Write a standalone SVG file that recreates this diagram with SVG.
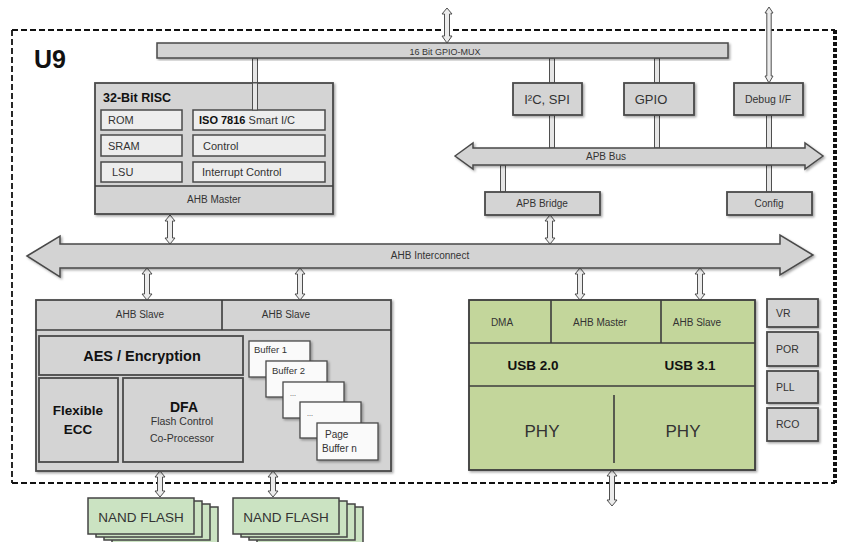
<svg xmlns="http://www.w3.org/2000/svg" width="841" height="542" viewBox="0 0 841 542">
<defs>
<style>
.box{fill:#d4d4d4;stroke:#4a4a4a;stroke-width:1.8}
.inner{fill:#ededed;stroke:#4a4a4a;stroke-width:1.5}
.green{fill:#c3d69b;stroke:#3c3c3c;stroke-width:1.8}
.nand{fill:#cbe3c2;stroke:#444;stroke-width:1.5}
.buf{fill:#fafafa;stroke:#4a4a4a;stroke-width:1.3}
.div{stroke:#3c3c3c;stroke-width:1.6;fill:none}
.arr{fill:#ececec;stroke:#4f4f4f;stroke-width:1}
.bus{fill:#d3d3d3;stroke:#4a4a4a;stroke-width:1.5}
.dl{fill:#e6e6e6;stroke:#4f4f4f;stroke-width:1}
text{font-family:"Liberation Sans",Arial,sans-serif;fill:#333}
.s{font-size:10px}
.m{font-size:11px}
.c{text-anchor:middle}
.b{font-weight:bold;fill:#111}
</style>
<filter id="sh" x="-10%" y="-10%" width="130%" height="130%">
<feDropShadow dx="1.5" dy="1.5" stdDeviation="1.2" flood-color="#000" flood-opacity="0.35"/>
</filter>
</defs>
<rect width="841" height="542" fill="#ffffff"/>

<g id="u9-border" fill="none" stroke="#111">
<path d="M12,30 H835 M12,30 V483 M12,483 H835" stroke-width="1.8" stroke-dasharray="6,3"/>
<path d="M835,30 V483" stroke-width="4" stroke-dasharray="4,2"/>
</g>
<text x="34" y="68" font-size="25" class="b">U9</text>

<g id="connectors">
<rect class="dl" x="252.5" y="58" width="5" height="52"/>
<rect class="dl" x="549.5" y="58" width="5" height="25"/>
<rect class="dl" x="654.5" y="58" width="5" height="25"/>
<rect class="dl" x="549.5" y="115" width="5" height="33"/>
<rect class="dl" x="654.5" y="115" width="5" height="33"/>
<rect class="dl" x="766.5" y="115" width="5" height="33"/>
<rect class="dl" x="500.5" y="165" width="5" height="27"/>
<rect class="dl" x="766.5" y="165" width="5" height="27"/>
<polygon class="arr" points="447,8 452,14 449.5,14 449.5,36 452,36 447,43 442,36 444.5,36 444.5,14 442,14"/>
<polygon class="arr" points="769,7 773,13 771.2,13 771.2,76 773,76 769,83 765,76 766.8,76 766.8,13 765,13"/>
<polygon class="arr" points="170,215 175,221 172.5,221 172.5,238 175,238 170,244 165,238 167.5,238 167.5,221 165,221"/>
<polygon class="arr" points="550,215 555,221 552.5,221 552.5,238 555,238 550,244 545,238 547.5,238 547.5,221 545,221"/>
<polygon class="arr" points="147,268 152,274 149.5,274 149.5,294 152,294 147,300 142,294 144.5,294 144.5,274 142,274"/>
<polygon class="arr" points="300,268 305,274 302.5,274 302.5,294 305,294 300,300 295,294 297.5,294 297.5,274 295,274"/>
<polygon class="arr" points="580,268 585,274 582.5,274 582.5,294 585,294 580,300 575,294 577.5,294 577.5,274 575,274"/>
<polygon class="arr" points="700,268 705,274 702.5,274 702.5,294 705,294 700,300 695,294 697.5,294 697.5,274 695,274"/>
<polygon class="arr" points="160,471 165,477 162.5,477 162.5,491 165,491 160,497 155,491 157.5,491 157.5,477 155,477"/>
<polygon class="arr" points="273,471 278,477 275.5,477 275.5,491 278,491 273,497 268,491 270.5,491 270.5,477 268,477"/>
<polygon class="arr" points="612,470 617,476 614.5,476 614.5,500 617,500 612,506 607,500 609.5,500 609.5,476 607,476"/>
</g>

<g id="gpio-mux">
<rect class="bus" x="157" y="43" width="571" height="15" filter="url(#sh)"/>
<text x="445" y="54.5" font-size="9" class="c">16 Bit GPIO-MUX</text>
</g>

<g id="risc">
<rect class="box" x="95" y="83" width="238" height="131" filter="url(#sh)"/>
<text x="103" y="102" font-size="12.5" class="b">32-Bit RISC</text>
<rect class="inner" x="101" y="110" width="81" height="20"/>
<rect class="inner" x="101" y="135" width="81" height="21"/>
<rect class="inner" x="101" y="162" width="81" height="20"/>
<rect class="inner" x="193" y="110" width="132" height="20"/>
<rect class="inner" x="193" y="135" width="132" height="21"/>
<rect class="inner" x="193" y="162" width="132" height="20"/>
<rect class="dl" x="252.5" y="83" width="5" height="27"/>
<text x="108" y="124" class="m">ROM</text>
<text x="108" y="150" class="m">SRAM</text>
<text x="112" y="176" class="m">LSU</text>
<text x="199" y="124" class="m"><tspan font-weight="bold" fill="#111">ISO 7816</tspan>  Smart I/C</text>
<text x="203" y="150" class="m">Control</text>
<text x="202" y="176" class="m">Interrupt  Control</text>
<line class="div" x1="95" y1="186" x2="333" y2="186"/>
<text x="214" y="203" class="s c">AHB Master</text>
</g>

<g id="i2c-spi">
<rect class="box" x="513" y="83" width="69" height="32" filter="url(#sh)"/>
<text x="547" y="104" font-size="13" class="c">I²C, SPI</text>
</g>
<g id="gpio">
<rect class="box" x="624" y="83" width="70" height="32" filter="url(#sh)"/>
<text x="651" y="104" font-size="13" class="c">GPIO</text>
</g>
<g id="debug">
<rect class="box" x="734" y="83" width="69" height="32" filter="url(#sh)"/>
<text x="768" y="103" font-size="10.5" class="c">Debug I/F</text>
</g>

<g id="apb-bus">
<polygon class="bus" points="455,156 473,143 473,148 805,148 805,143 823,156 805,169 805,165 473,165 473,169" filter="url(#sh)"/>
<text x="606" y="160" class="s c">APB Bus</text>
</g>
<g id="apb-bridge">
<rect class="box" x="485" y="192" width="115" height="23" filter="url(#sh)"/>
<text x="542" y="207" class="s c">APB Bridge</text>
</g>
<g id="config">
<rect class="box" x="727" y="192" width="85" height="23" filter="url(#sh)"/>
<text x="769" y="207" class="s c">Config</text>
</g>

<g id="ahb-interconnect">
<polygon class="bus" points="27,256 60,236 60,244 780,244 780,235 813,255 780,275 780,268 60,268 60,277" filter="url(#sh)"/>
<text x="430" y="259" class="s c">AHB Interconnect</text>
</g>

<g id="flash-controller">
<rect class="box" x="36" y="300" width="355" height="171" filter="url(#sh)"/>
<line class="div" x1="36" y1="330" x2="391" y2="330"/>
<line class="div" x1="222" y1="300" x2="222" y2="330"/>
<text x="140" y="318" class="s c">AHB Slave</text>
<text x="286" y="318" class="s c">AHB Slave</text>
<rect class="box" x="39" y="336" width="204" height="39"/>
<text x="142" y="361" font-size="14.5" class="b c">AES / Encryption</text>
<rect class="box" x="39" y="378" width="79" height="84"/>
<text x="78" y="415" font-size="13.5" class="b c">Flexible</text>
<text x="78" y="434" font-size="13.5" class="b c">ECC</text>
<rect class="box" x="123" y="378" width="120" height="84"/>
<text x="184" y="412" font-size="14" class="b c">DFA</text>
<text x="182" y="425" font-size="10.5" class="c">Flash Control</text>
<text x="182" y="442" font-size="10.5" class="c">Co-Processor</text>
<rect class="buf" x="249" y="341" width="61" height="36" filter="url(#sh)"/>
<text x="254" y="353" font-size="9.5">Buffer 1</text>
<rect class="buf" x="266" y="361" width="61" height="36" filter="url(#sh)"/>
<text x="272" y="374" font-size="9.5">Buffer 2</text>
<rect class="buf" x="283" y="382" width="61" height="36" filter="url(#sh)"/>
<text x="290" y="396" font-size="7" fill="#aaa">...</text>
<rect class="buf" x="300" y="402" width="61" height="36" filter="url(#sh)"/>
<text x="307" y="416" font-size="7" fill="#aaa">...</text>
<rect class="buf" x="317" y="423" width="61" height="37" filter="url(#sh)"/>
<text x="325" y="438" font-size="10">Page</text>
<text x="322" y="452" font-size="10">Buffer  n</text>
</g>

<g id="usb">
<rect class="green" x="469" y="300" width="286" height="170" filter="url(#sh)"/>
<line class="div" x1="469" y1="343" x2="755" y2="343"/>
<line class="div" x1="469" y1="386" x2="755" y2="386"/>
<line class="div" x1="551" y1="300" x2="551" y2="343"/>
<line class="div" x1="661" y1="300" x2="661" y2="343"/>
<line class="div" x1="614" y1="395" x2="614" y2="463"/>
<text x="502" y="326" class="s c">DMA</text>
<text x="600" y="326" class="s c">AHB Master</text>
<text x="697" y="326" class="s c">AHB Slave</text>
<text x="533" y="370" font-size="13.5" class="b c">USB 2.0</text>
<text x="690" y="370" font-size="13.5" class="b c">USB 3.1</text>
<text x="542" y="437" font-size="17" class="c" fill="#222">PHY</text>
<text x="683" y="437" font-size="17" class="c" fill="#222">PHY</text>
</g>

<g id="vr"><rect class="box" x="767" y="299" width="51" height="28" filter="url(#sh)"/><text x="776" y="317" font-size="10.5">VR</text></g>
<g id="por"><rect class="box" x="767" y="332" width="51" height="34" filter="url(#sh)"/><text x="776" y="353" font-size="10.5">POR</text></g>
<g id="pll"><rect class="box" x="767" y="371" width="51" height="32" filter="url(#sh)"/><text x="776" y="391" font-size="10.5">PLL</text></g>
<g id="rco"><rect class="box" x="767" y="408" width="51" height="33" filter="url(#sh)"/><text x="776" y="428" font-size="10.5">RCO</text></g>

<g id="nand-1">
<rect class="nand" x="112" y="507" width="106" height="36"/>
<rect class="nand" x="104" y="504" width="106" height="36"/>
<rect class="nand" x="96" y="501" width="106" height="36"/>
<rect class="nand" x="88" y="498" width="106" height="36"/>
<text x="141" y="522" font-size="13.5" class="c">NAND FLASH</text>
</g>
<g id="nand-2">
<rect class="nand" x="257" y="507" width="106" height="36"/>
<rect class="nand" x="249" y="504" width="106" height="36"/>
<rect class="nand" x="241" y="501" width="106" height="36"/>
<rect class="nand" x="233" y="498" width="106" height="36"/>
<text x="286" y="522" font-size="13.5" class="c">NAND FLASH</text>
</g>
</svg>
